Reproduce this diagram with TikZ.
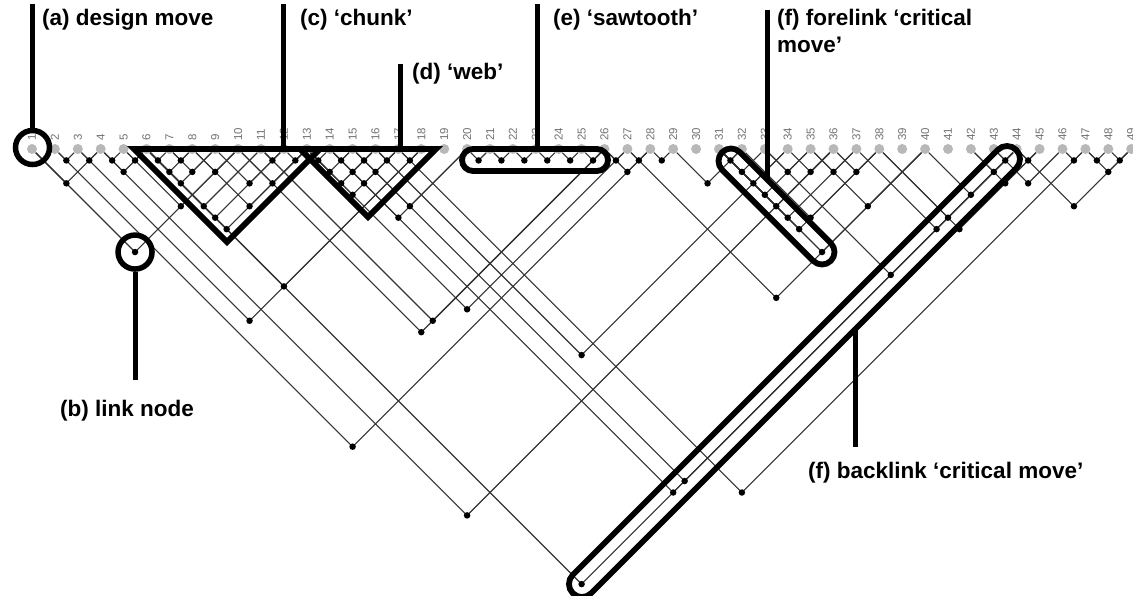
\documentclass[tikz,border=0pt]{standalone}
\usepackage{fontspec}
\setmainfont{Liberation Sans}
\pgfdeclarelayer{bg}
\pgfsetlayers{bg,main}
\begin{document}
\begin{tikzpicture}[x=1pt,y=-1pt,
  link/.style={draw=black!80, line width=1.1pt},
  ldot/.style={circle, fill=black, inner sep=0pt, minimum size=6.5pt},
  mdot/.style={circle, fill=black!28, inner sep=0pt, minimum size=10pt},
  mlabel/.style={rotate=90, anchor=west, inner sep=0pt, font=\fontsize{11.5}{12}\selectfont, text=black!55},
  heavy/.style={line width=5.8pt, draw=black},
  leader/.style={line width=5pt, draw=black},
  ring/.style={circle, draw=black, line width=5.5pt, inner sep=0pt, minimum size=34pt},
  callout/.style={font=\fontsize{22.5}{27}\selectfont\bfseries, anchor=base west, inner sep=0pt}]
\useasboundingbox (0,0) rectangle (1133,596);
\begin{pgfonlayer}{bg}
  \fill[white] (0,0) rectangle (1133,596);
\end{pgfonlayer}
% design moves
\foreach \k in {1,...,49}{
  \pgfmathsetmacro\xk{32+(\k-1)*22.9}
  \node[mdot] (m\k) at (\xk,149) {};
  \node[mlabel] (t\k) at (\xk,141) {\k};
}
% links
\foreach \i/\j in {1/4,1/10,2/3,2/28,3/4,3/18,4/5,4/6,4/36,5/6,5/10,
  6/7,6/8,6/9,6/11,6/12,6/13,6/18,6/44,7/8,7/9,8/10,8/13,9/12,10/13,10/26,
  11/12,11/26,12/13,13/14,13/15,13/16,13/17,13/27,14/15,14/16,14/17,14/20,14/44,
  15/16,15/17,15/20,15/44,16/17,16/34,17/18,17/47,
  20/21,21/22,22/23,23/24,24/25,25/26,26/27,26/28,27/28,27/40,28/29,29/32,
  31/32,31/33,31/34,31/35,31/36,31/37,31/38,31/40,
  32/38,33/35,33/44,34/36,35/37,35/40,36/38,
  37/44,38/44,38/45,40/44,42/44,42/45,43/44,43/46,44/45,44/49,
  46/47,47/48,47/49,48/49}{
  \pgfmathsetmacro\xa{32+(\i-1)*22.9}
  \pgfmathsetmacro\xb{32+(\j-1)*22.9}
  \pgfmathsetmacro\xm{(\xa+\xb)/2}
  \pgfmathsetmacro\ym{149+(\j-\i)*11.45}
  \node[ldot] (L\i-\j) at (\xm,\ym) {};
  \begin{pgfonlayer}{bg}
    \draw[link] (m\i) -- (L\i-\j.center) -- (m\j);
  \end{pgfonlayer}
}
% (a) design move
\node[ring] (ca) at (32.5,147.5) {};
\coordinate (atop) at (32.5,4);
\draw[leader] (ca.north) -- (atop);
\node[callout] (ta) at (42,26) {(a) design move};
% (b) link node
\node[ring] (cb) at (L1-10.center) {};
\coordinate (bbot) at (cb.south |- 0,380);
\draw[leader] (cb.south) -- (bbot);
\node[callout] (tb) at (60,416) {(b) link node};
% (c) chunk
\draw[heavy, line join=miter] (134,149) -- (320,149) -- (227,242) -- cycle;
\coordinate (ctop) at (283,4);
\coordinate (cbot) at (283,149);
\draw[leader] (cbot) -- (ctop);
\node[callout] (tc) at (300,26) {(c) ‘chunk’};
% (d) web
\draw[heavy, line join=miter] (300,149) -- (436,149) -- (368,217) -- cycle;
\coordinate (dtop) at (400,64);
\coordinate (dbot) at (400,149);
\draw[leader] (dbot) -- (dtop);
\node[callout] (td) at (412,80) {(d) ‘web’};
% (e) sawtooth
\draw[heavy, rounded corners=11pt] (462,149) rectangle (608,171);
\coordinate (etop) at (537,4);
\coordinate (ebot) at (537,149);
\draw[leader] (ebot) -- (etop);
\node[callout] (te) at (553,26) {(e) ‘sawtooth’};
% (f) forelink critical move
\begin{scope}[shift={(731,161)}, rotate=-45]
  \draw[heavy, rounded corners=12.5pt] (-12.5,-12.5) rectangle (141.2,12.5);
\end{scope}
\coordinate (ftop) at (767,10);
\coordinate (fbot) at (767,180);
\draw[leader] (fbot) -- (ftop);
\node[callout] (tf1) at (777,26) {(f) forelink ‘critical};
\node[callout] (tf2) at (777,53) {move’};
% (f) backlink critical move
\begin{scope}[shift={(1007,159)}, rotate=-135]
  \draw[heavy, rounded corners=13pt] (-13,-13) rectangle (614.1,13);
\end{scope}
\coordinate (gtop) at (855,329);
\coordinate (gbot) at (855,447);
\draw[leader] (gtop) -- (gbot);
\node[callout] (tg) at (808,478) {(f) backlink ‘critical move’};
\end{tikzpicture}
\end{document}
